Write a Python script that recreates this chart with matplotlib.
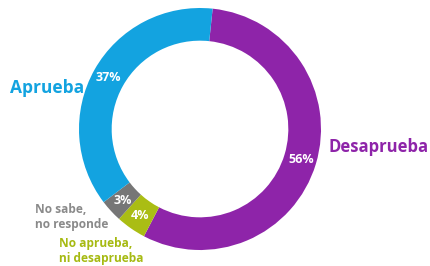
import matplotlib
matplotlib.use("Agg")
import matplotlib.pyplot as plt

# data
categories = ["Desaprueba", "No aprueba,\nni desaprueba", "No sabe,\nno responde", "Aprueba"]
values = [56, 4, 3, 37]
colors = ["#8E24A9", "#AABD14", "#767676", "#13A3E0"]
text_colors = ["#8E24A9", "#A6BA12", "#8A8A8A", "#13A3E0"]

plt.rcParams['font.family'] = ['Open Sans', 'DejaVu Sans']

W, H = 430, 266
fig = plt.figure(figsize=(W / 100, H / 100), dpi=100)
ax = fig.add_axes([0, 0, 1, 1])

# donut
wedges, _, autotexts = ax.pie(values, colors=colors, startangle=84, counterclock=False,
                              center=(200, H - 129), radius=121, frame=True,
                              wedgeprops=dict(width=121 * 0.27, linewidth=0),
                              autopct=lambda p: f"{p:.0f}%", pctdistance=0.87,
                              textprops=dict(color="white", fontsize=9, fontweight="bold"))
ax.set_xlim(0, W)
ax.set_ylim(0, H)
ax.axis("off")

# category labels (pixel positions, y from top)
ax.text(10, H - 88, categories[3], color=text_colors[3], fontsize=12.5, fontweight="bold",
        ha="left", va="center")
ax.text(328, H - 147, categories[0], color=text_colors[0], fontsize=12, fontweight="bold",
        ha="left", va="center")
ax.text(35, H - 217, categories[2], color=text_colors[2], fontsize=8.6, fontweight="bold",
        ha="left", va="center", linespacing=1.15)
ax.text(59, H - 251, categories[1], color=text_colors[1], fontsize=8.6, fontweight="bold",
        ha="left", va="center", linespacing=1.15)

fig.savefig("out.png", dpi=100)
